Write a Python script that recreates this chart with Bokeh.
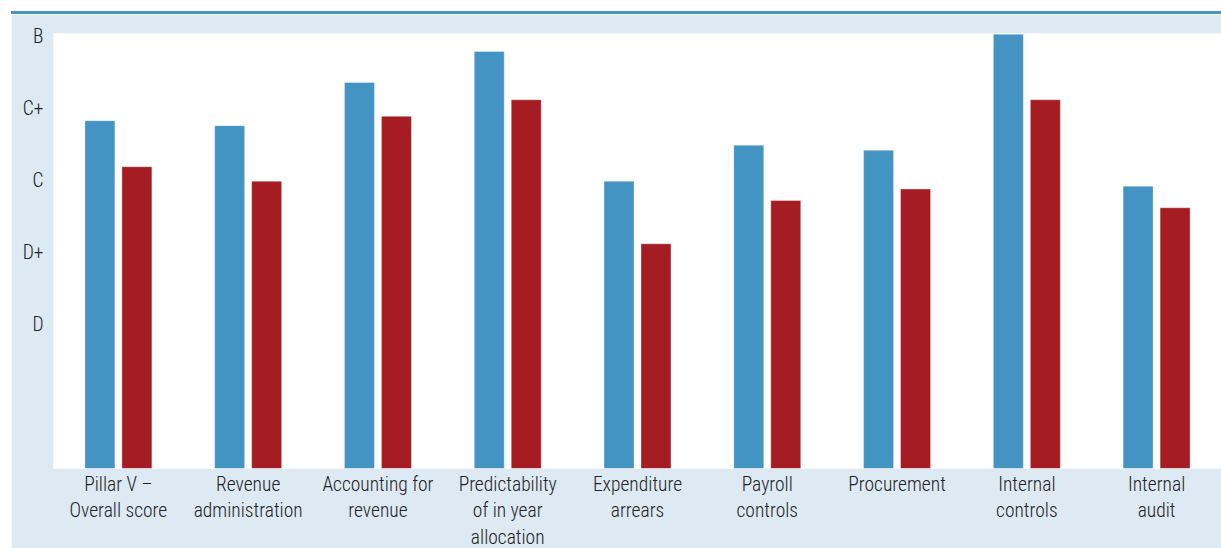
from bokeh.plotting import figure
from bokeh.models import FactorRange, Range1d, FixedTicker
from bokeh.transform import dodge
from bokeh.embed import file_html
from bokeh.resources import INLINE

# PEFA indicator groups and average grades (D=1 ... B=5)
categories = [
    "Pillar V –\nOverall score",
    "Revenue\nadministration",
    "Accounting for\nrevenue",
    "Predictability\nof in year\nallocation",
    "Expenditure\narrears",
    "Payroll\ncontrols",
    "Procurement",
    "Internal\ncontrols",
    "Internal\naudit",
]
series_1 = [3.83, 3.76, 4.36, 4.79, 2.99, 3.49, 3.42, 5.03, 2.92]
series_2 = [3.19, 2.99, 3.89, 4.12, 2.12, 2.72, 2.88, 4.12, 2.62]
grade_ticks = [1, 2, 3, 4, 5]
grade_labels = ["D", "D+", "C", "C+", "B"]

BLUE = "#4393c3"
RED = "#a51c22"
PANEL = "#dde9f3"
TEXT = "#222222"
FONT = "'Roboto Condensed Light', 'Roboto Condensed', Roboto, sans-serif"
Y_MIN, Y_MAX = -1.0, 5.04

p = figure(
    x_range=FactorRange(factors=categories),
    y_range=Range1d(Y_MIN, Y_MAX),
    width=1210,
    height=537,
    margin=(11, 0, 0, 11),
    output_backend="svg",
    toolbar_location=None,
    min_border_left=42,
    min_border_right=0,
    min_border_top=19,
    min_border_bottom=83,
    border_fill_color=PANEL,
    background_fill_color="white",
    outline_line_color=None,
    styles={"border-top": "3px solid #4a94c4"},
)

data = dict(cat=categories, s1=series_1, s2=series_2)
p.vbar(x=dodge("cat", -0.1425, range=p.x_range), top="s1", bottom=Y_MIN,
       width=0.231, source=data, fill_color=BLUE,
       line_color="white", line_alpha=0.35, line_width=1)
p.vbar(x=dodge("cat", 0.1425, range=p.x_range), top="s2", bottom=Y_MIN,
       width=0.231, source=data, fill_color=RED,
       line_color="white", line_alpha=0.35, line_width=1)

p.grid.visible = False

for ax in (p.xaxis[0], p.yaxis[0]):
    ax.axis_line_color = None
    ax.major_tick_line_color = None
    ax.minor_tick_line_color = None
    ax.major_tick_out = 0
    ax.major_tick_in = 0
    ax.minor_tick_out = 0
    ax.minor_tick_in = 0
    ax.major_label_text_font = FONT
    ax.major_label_text_font_size = "19.5px"
    ax.major_label_text_color = TEXT

xa = p.xaxis[0]
xa.major_label_standoff = 4
xa.major_label_text_line_height = 1.16

ya = p.yaxis[0]
ya.ticker = FixedTicker(ticks=grade_ticks)
ya.major_label_overrides = {t: lab for t, lab in zip(grade_ticks, grade_labels)}
ya.major_label_standoff = 10

open("out.html", "w").write(file_html(p, INLINE))
